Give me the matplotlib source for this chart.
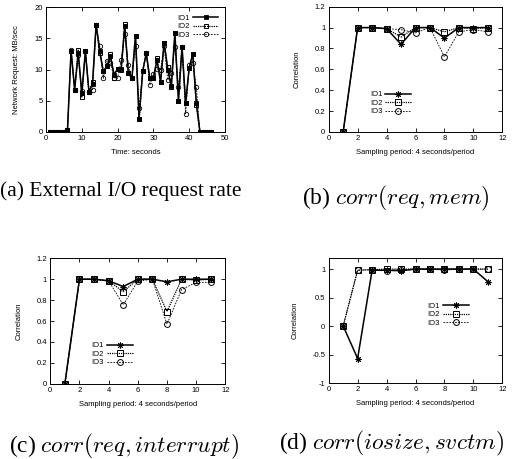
import matplotlib
matplotlib.use('Agg')
import matplotlib.pyplot as plt
from matplotlib.ticker import FormatStrFormatter

plt.rcParams['font.family'] = ['Liberation Sans', 'DejaVu Sans']
plt.rcParams['mathtext.fontset'] = 'cm'

# (a) external I/O request rate, per second
t_sec = list(range(1, 47))
rate_io1 = [0, 0, 0, 0, 0, 0.3, 13.0, 6.8, 12.6, 6.2, 12.9, 6.4, 7.7, 17.2, 13.0, 9.7,
            10.5, 12.1, 9.2, 10.1, 10.1, 17.0, 9.4, 8.6, 15.4, 2.1, 9.7, 12.6, 8.6, 8.6,
            11.5, 8.0, 14.3, 10.0, 7.3, 15.8, 5.0, 13.6, 4.6, 10.3, 12.5, 4.6, 0, 0, 0, 0]
rate_io2 = [0, 0, 0, 0, 0, 0.3, 13.0, 6.8, 13.1, 5.6, 12.9, 6.4, 8.0, 17.2, 12.6, 9.7,
            10.5, 12.5, 8.7, 10.1, 9.9, 17.3, 9.4, 8.6, 15.4, 2.1, 9.7, 12.6, 8.6, 8.6,
            11.9, 8.0, 14.3, 10.4, 7.2, 15.8, 5.0, 13.6, 4.6, 10.3, 12.5, 4.3, 0, 0, 0, 0]
rate_io3 = [0, 0, 0, 0, 0, 0.3, 13.2, 6.8, 12.3, 6.5, 12.9, 6.4, 6.8, 17.2, 13.8, 8.6,
            11.4, 11.1, 8.7, 8.6, 11.5, 15.7, 10.7, 8.6, 13.8, 3.8, 9.7, 12.6, 7.5, 9.3,
            10.1, 10.0, 13.7, 8.3, 9.5, 13.6, 7.2, 13.6, 2.9, 10.7, 11.1, 7.2, 0, 0, 0, 0]

# (b)-(d) correlation per sampling period
period = list(range(1, 12))
mem_io1 = [0, 1, 1, 0.99, 0.84, 1, 1, 0.90, 1, 1, 1.0]
mem_io2 = [0, 1, 1, 0.99, 0.91, 1, 1, 0.96, 1, 0.99, 1.0]
mem_io3 = [0, 1, 1, 0.99, 0.98, 0.95, 1, 0.72, 0.96, 0.98, 0.96]

intr_io1 = [0, 1, 1, 0.985, 0.93, 1, 1, 0.975, 1, 1, 1]
intr_io2 = [0, 1, 1, 0.985, 0.88, 1, 1, 0.69, 1, 0.99, 1]
intr_io3 = [0, 1, 1, 0.985, 0.755, 0.98, 1, 0.57, 0.90, 0.97, 0.97]

svc_io1 = [0, -0.57, 0.98, 0.98, 0.97, 1, 1, 1, 1, 1, 0.78]
svc_io2 = [0, 0.98, 0.99, 1, 1, 1, 1, 1, 1, 1, 1]
svc_io3 = [0, 0.98, 0.99, 0.97, 0.99, 1, 1, 0.98, 1, 1, 1]

labels = ['IO1', 'IO2', 'IO3']
W, H = 513, 459
fig = plt.figure(figsize=(W / 100, H / 100), dpi=100)


def box(l, t, r, b):
    return [l / W, 1 - b / H, (r - l) / W, (b - t) / H]


def style(ax, xlim, ylim, xt, yt, xlabel, ylabel, ylpad):
    ax.set_xlim(*xlim)
    ax.set_ylim(*ylim)
    ax.set_xticks(xt)
    ax.set_yticks(yt)
    ax.yaxis.set_major_formatter(FormatStrFormatter('%g'))
    ax.tick_params(direction='in', top=True, right=True, length=3, width=0.6,
                   labelsize=5.5, pad=2.5)
    for s in ax.spines.values():
        s.set_linewidth(0.7)
    ax.set_xlabel(xlabel, fontsize=5.5, labelpad=5)
    ax.set_ylabel(ylabel, fontsize=5.5, labelpad=ylpad)


line_kw = [dict(ls='-', lw=1.1), dict(ls=(0, (1, 0.8)), lw=0.9), dict(ls=(0, (2, 1.5)), lw=0.6)]
leg_kw = dict(frameon=False, markerfirst=False, fontsize=5.5, handlelength=3.4,
              labelspacing=0.15, handletextpad=0.4, borderpad=0)

# (a)
ax = fig.add_axes(box(46, 7, 225, 132))
ax.plot(t_sec, rate_io1, color='k', marker='s', ms=3.2, mfc='k', mew=0.6, label=labels[0], **line_kw[0])
ax.plot(t_sec, rate_io2, color='k', marker='s', ms=3.2, mfc='none', mew=0.7, label=labels[1], **line_kw[1])
ax.plot(t_sec, rate_io3, color='k', marker='o', ms=3.2, mfc='none', mew=0.6, label=labels[2], **line_kw[2])
style(ax, (0, 50), (0, 20), range(0, 51, 10), range(0, 21, 5), 'Time: seconds',
      'Network Request: MB/sec', 10)
ax.legend(loc='upper right', bbox_to_anchor=(0.985, 0.97), **leg_kw)


def corr_panel(rect, ys, ylim, yt, anchor, ylpad):
    ax = fig.add_axes(box(*rect))
    markers = [(8, 2, 0), 's', 'o']
    for y, m, lab, kw in zip(ys, markers, labels, line_kw):
        ax.plot(period, y, color='k', marker=m, ms=4.2, mfc='none', mew=0.7, label=lab, **kw)
    style(ax, (0, 12), ylim, range(0, 13, 2), yt, 'Sampling period: 4 seconds/period',
          'Correlation', ylpad)
    ax.legend(loc='center left', bbox_to_anchor=anchor, **leg_kw)
    return ax


yt12 = [0, 0.2, 0.4, 0.6, 0.8, 1, 1.2]
corr_panel((328.7, 6.7, 502.3, 132), [mem_io1, mem_io2, mem_io3], (0, 1.2), yt12, (0.215, 0.23), 10)
corr_panel((50.3, 258.3, 225.3, 383.7), [intr_io1, intr_io2, intr_io3], (0, 1.2), yt12, (0.215, 0.235), 10)
corr_panel((328.7, 257.7, 502.3, 383), [svc_io1, svc_io2, svc_io3], (-1, 1.2), [-1, -0.5, 0, 0.5, 1],
           (0.545, 0.545), 10)

serif = ['Liberation Serif', 'DejaVu Serif']
fig.text(121 / W, 1 - 191 / H, '(a) External I/O request rate', ha='center', va='center',
         fontsize=15.5, family=serif)
cap = dict(ha='center', va='center', fontsize=16.8, family=serif)
fig.text(396 / W, 1 - 198 / H, '(b) $corr(req, mem)$', **cap)
fig.text(124 / W, 1 - 446 / H, '(c) $corr(req, interrupt)$', **cap)
fig.text(392 / W, 1 - 443 / H, '(d) $corr(iosize, svctm)$', **cap)

fig.savefig('out.png', dpi=100)
